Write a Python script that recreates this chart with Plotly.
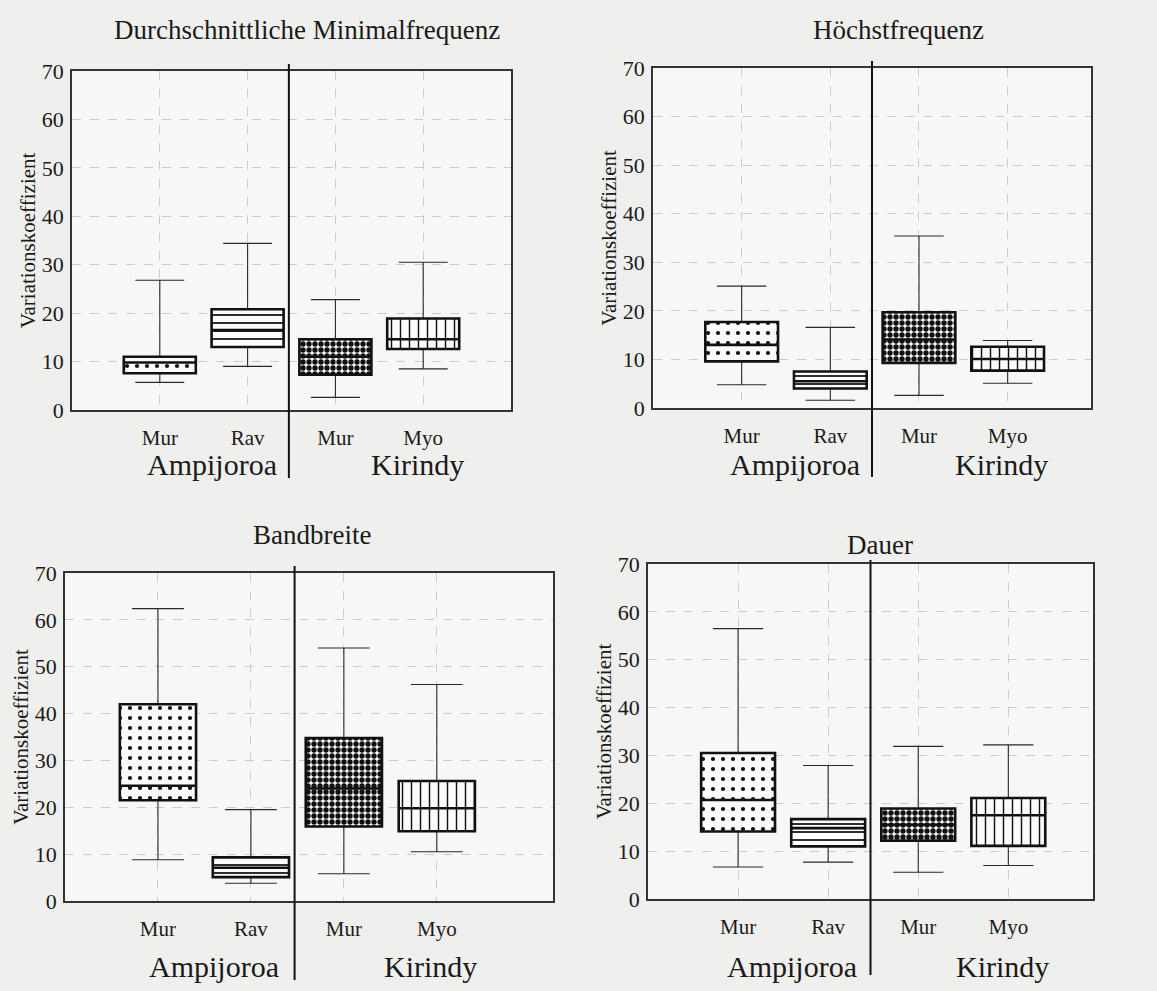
import plotly.graph_objects as go

# Categories along each x axis and the two sites
categories = ["Mur", "Rav", "Mur", "Myo"]
sites = ["Ampijoroa", "Kirindy"]
titles = ["Durchschnittliche Minimalfrequenz", "Höchstfrequenz", "Bandbreite", "Dauer"]
y_title = "Variationskoeffizient"

# Five-number summaries (coefficient of variation, %) per parameter:
# lower whisker, first quartile, median, third quartile, upper whisker
minfreq_low = [5.7, 9.0, 2.6, 8.5]
minfreq_q1 = [7.6, 13.0, 7.3, 12.6]
minfreq_med = [9.8, 16.5, 11.0, 14.6]
minfreq_q3 = [11.0, 20.8, 14.6, 18.9]
minfreq_high = [26.8, 34.4, 22.8, 30.5]

maxfreq_low = [4.8, 1.6, 2.6, 5.1]
maxfreq_q1 = [9.6, 4.0, 9.3, 7.7]
maxfreq_med = [13.0, 5.5, 14.1, 10.1]
maxfreq_q3 = [17.7, 7.5, 19.7, 12.6]
maxfreq_high = [25.1, 16.6, 35.4, 13.9]

bandw_low = [8.8, 3.8, 5.8, 10.5]
bandw_q1 = [21.5, 5.1, 15.9, 14.9]
bandw_med = [24.6, 7.1, 24.0, 19.8]
bandw_q3 = [42.0, 9.3, 34.8, 25.6]
bandw_high = [62.4, 19.5, 54.0, 46.2]

dur_low = [6.7, 7.7, 5.6, 7.0]
dur_q1 = [14.1, 11.0, 12.2, 11.1]
dur_med = [20.7, 14.8, 15.5, 17.5]
dur_q3 = [30.5, 16.7, 18.9, 21.1]
dur_high = [56.5, 27.9, 31.9, 32.2]

panels = [
    (minfreq_low, minfreq_q1, minfreq_med, minfreq_q3, minfreq_high),
    (maxfreq_low, maxfreq_q1, maxfreq_med, maxfreq_q3, maxfreq_high),
    (bandw_low, bandw_q1, bandw_med, bandw_q3, bandw_high),
    (dur_low, dur_q1, dur_med, dur_q3, dur_high),
]

W, H = 1157, 991


def px_x(v):
    return v / W


def px_y(v):
    return 1 - v / H


# plot-area frames in pixels: left, right, top, bottom, x-range upper bound
frames = [
    (72, 511, 71, 410, 5.0),
    (653, 1091, 68, 408, 4.94),
    (65, 553, 573, 901, 5.25),
    (648, 1093, 564, 899, 4.94),
]
# divider line extent (top, bottom) in pixels
dividers = [(64, 478), (61, 477), (566, 980), (560, 975)]
title_pos = [(307, 30), (898, 30), (312, 535), (880, 545)]
site_label_y = [465, 465, 966, 966]

positions = [1, 2, 3, 4]
pattern_shapes = [".", "-", ".", "|"]
pattern_sizes = [10, 8, 6, 9]
pattern_solid = [0.14, 0.22, 0.62, 0.16]

serif = "Liberation Serif, Times New Roman, serif"
ink = "#1a1a1a"

fig = go.Figure()
layout = dict(
    width=W,
    height=H,
    margin=dict(l=0, r=0, t=0, b=0),
    paper_bgcolor="#efefed",
    plot_bgcolor="#f7f7f6",
    showlegend=False,
    boxmode="overlay",
    barmode="overlay",
    font=dict(family=serif, color=ink),
)
annotations = []
shapes = []

for i, (low, q1, med, q3, high) in enumerate(panels):
    n = "" if i == 0 else str(i + 1)
    xa, ya = "x" + n, "y" + n
    left, right, top, bottom, xmax = frames[i]

    fig.add_trace(go.Bar(
        x=positions, base=q1, y=[b - a for a, b in zip(q1, q3)],
        width=0.82, xaxis=xa, yaxis=ya,
        marker=dict(
            color="#fbfbfb",
            line=dict(width=0),
            pattern=dict(shape=pattern_shapes, size=pattern_sizes,
                         solidity=pattern_solid, fgcolor="#111111",
                         bgcolor="#fbfbfb", fillmode="replace"),
        ),
        hoverinfo="skip",
    ))
    # whiskers with caps
    fig.add_trace(go.Box(
        x=positions, q1=q1, median=med, q3=q3, lowerfence=low, upperfence=high,
        width=0.82, whiskerwidth=0.68, xaxis=xa, yaxis=ya,
        line=dict(color="#2a2a2a", width=1.1), fillcolor="rgba(0,0,0,0)",
        boxpoints=False, hoverinfo="skip",
    ))
    # heavy box outline and median
    fig.add_trace(go.Box(
        x=positions, q1=q1, median=med, q3=q3, lowerfence=q1, upperfence=q3,
        width=0.82, whiskerwidth=0, xaxis=xa, yaxis=ya,
        line=dict(color="#111111", width=2.6), fillcolor="rgba(0,0,0,0)",
        boxpoints=False, hoverinfo="skip",
    ))

    layout["xaxis" + n] = dict(
        domain=[px_x(left), px_x(right)], anchor=ya, range=[0, xmax],
        tickvals=positions, ticktext=categories,
        tickfont=dict(size=21, family=serif, color=ink),
        ticks="outside", ticklen=0, ticklabelstandoff=8,
        showgrid=True, gridcolor="#cbcbcb", griddash="dash", gridwidth=1,
        showline=True, linecolor="#333333", linewidth=1.6, mirror=True,
        zeroline=False, automargin=False, fixedrange=True,
    )
    layout["yaxis" + n] = dict(
        domain=[px_y(bottom), px_y(top)], anchor=xa, range=[0, 70],
        tickvals=[0, 10, 20, 30, 40, 50, 60, 70],
        tickfont=dict(size=22, family=serif, color=ink),
        ticks="outside", ticklen=0, ticklabelstandoff=2,
        showgrid=True, gridcolor="#cbcbcb", griddash="dash", gridwidth=1,
        showline=True, linecolor="#333333", linewidth=1.6, mirror=True,
        zeroline=False, automargin=False, fixedrange=True,
        title=dict(text=y_title, font=dict(size=21, family=serif, color=ink),
                   standoff=0),
    )

    dtop, dbot = dividers[i]
    shapes.append(dict(type="line", xref=xa, yref="paper", x0=2.47, x1=2.47,
                       y0=px_y(dbot), y1=px_y(dtop),
                       line=dict(color="#111111", width=2)))

    tx, ty = title_pos[i]
    annotations.append(dict(text=titles[i], xref="paper", yref="paper",
                            x=px_x(tx), y=px_y(ty), showarrow=False,
                            xanchor="center", yanchor="middle",
                            font=dict(size=27, family=serif, color=ink)))
    for sx, site in zip([1.6, 3.93], sites):
        annotations.append(dict(text=site, xref=xa, yref="paper",
                                x=sx, y=px_y(site_label_y[i]), showarrow=False,
                                xanchor="center", yanchor="middle",
                                font=dict(size=30, family=serif, color=ink)))

layout["annotations"] = annotations
layout["shapes"] = shapes
fig.update_layout(**layout)

fig.write_html("out.html")
